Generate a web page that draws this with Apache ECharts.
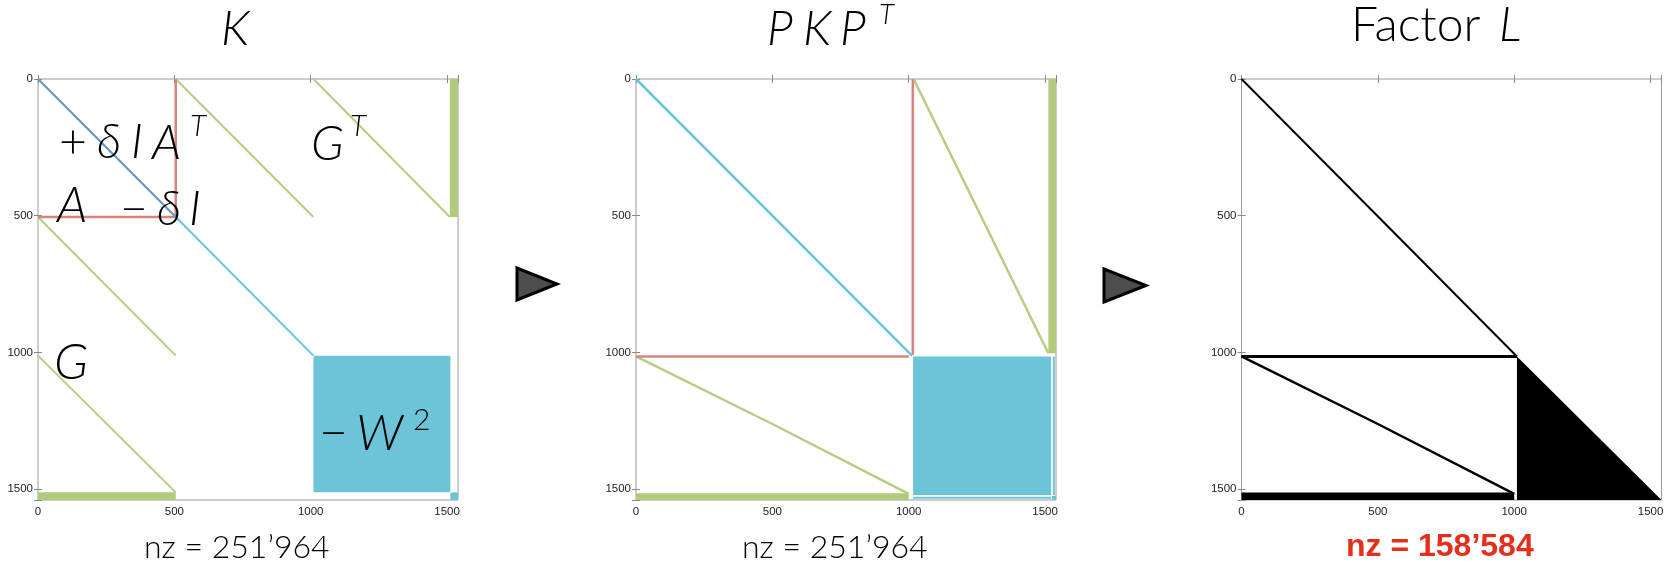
<!DOCTYPE html>
<html>
<head>
<meta charset="utf-8">
<script src="https://cdn.jsdelivr.net/npm/echarts@6/dist/echarts.min.js"></script>
<style>
html, body { margin: 0; padding: 0; background: #fff; }
#chart { width: 1667px; height: 563px; }
</style>
</head>
<body>
<div id="chart"></div>
<script>
// matrix size and tick labels
const size = 1540
const tickValues = [0, 500, 1000, 1500]

// K : segments as [[col,row],[col,row]], blocks as [c0,r0,c1,r1]
const kDiagUpper = [[0, 0], [505, 505]]
const kDiagLower = [[505, 505], [1010, 1012]]
const kRed = [[[505, 0], [505, 505]], [[0, 505], [505, 505]]]
const kGreenLines = [
  [[505, 0], [1010, 505]],
  [[1010, 0], [1510, 505]],
  [[0, 505], [505, 1012]],
  [[0, 1012], [505, 1512]]
]
const kGreenBars = [[1510, 0, 1540, 505], [0, 1512, 505, 1540]]
const kBlueBlocks = [[1010, 1012, 1512, 1512], [1512, 1512, 1540, 1540]]

// P K P^T
const pDiag = [[0, 0], [1012, 1012]]
const pRed = [[[1015, 0], [1015, 1010]], [[0, 1015], [1000, 1015]]]
const pGreenLines = [
  [[1018, 0], [1512, 1003]],
  [[0, 1015], [500, 1262], [1000, 1518]]
]
const pGreenBars = [[1512, 0, 1540, 1003], [0, 1515, 1000, 1540]]
const pBlueBlocks = [[1016, 1015, 1522, 1522], [1525, 1525, 1540, 1540]]
const pBlueThin = [[[1532, 1015], [1532, 1522]], [[1016, 1532], [1522, 1532]]]

// factor L
const lDiag = [[0, 0], [1010, 1015]]
const lRow = [[0, 1015], [1010, 1015]]
const lCurve = [[0, 1015], [500, 1262], [1000, 1518]]
const lBars = [[0, 1513, 1000, 1540]]
const lTriangle = [[1010, 1015, 1010, 1540, 1540, 1540]]

const nzLabels = ['nz = 251’964', 'nz = 251’964', 'nz = 158’584']

const BLUE_DARK = '#6793bd'
const BLUE = '#6cc4d9'
const RED = '#d6847c'
const GREEN = '#b6cd83'
const GREEN_BAR = '#b2ca7b'

const gridBoxes = [
  { left: 38, top: 79, width: 420, height: 421 },
  { left: 636, top: 79, width: 420, height: 421 },
  { left: 1241.5, top: 79, width: 420, height: 421 }
]

const tickStyle = { inside: true, length: 4, lineStyle: { color: '#8a8a8a' } }
const xAxes = [], yAxes = []
gridBoxes.forEach((g, i) => {
  const base = { gridIndex: i, type: 'value', min: 0, max: size, interval: 500,
    axisLine: { show: false }, axisTick: tickStyle, splitLine: { show: false } }
  const lab = {
    color: '#222', fontSize: 11.5, fontFamily: 'Liberation Sans',
    formatter: v => tickValues.includes(v) ? String(v) : ''
  }
  xAxes.push({ ...base, position: 'bottom', axisLabel: { ...lab, margin: 6 } })
  xAxes.push({ ...base, position: 'top', axisLabel: { show: false } })
  yAxes.push({ ...base, inverse: true, position: 'left', axisLabel: { ...lab, margin: 5 } })
  yAxes.push({ ...base, inverse: true, position: 'right', axisLabel: { show: false } })
})

const series = []
function seg(i, data, color, width) {
  series.push({
    type: 'line', xAxisIndex: 2 * i, yAxisIndex: 2 * i, data,
    symbol: 'none', silent: true, lineStyle: { color, width }
  })
}
function rects(i, data, color, r = 0) {
  series.push({
    type: 'custom', xAxisIndex: 2 * i, yAxisIndex: 2 * i, data, silent: true,
    renderItem: (p, api) => {
      const a = api.coord([api.value(0), api.value(1)])
      const b = api.coord([api.value(2), api.value(3)])
      return {
        type: 'rect',
        shape: { x: Math.min(a[0], b[0]), y: Math.min(a[1], b[1]),
          width: Math.abs(b[0] - a[0]), height: Math.abs(b[1] - a[1]), r },
        style: { fill: color }
      }
    }
  })
}
function polys(i, data, color) {
  series.push({
    type: 'custom', xAxisIndex: 2 * i, yAxisIndex: 2 * i, data, silent: true,
    renderItem: (p, api) => {
      const pts = []
      for (let k = 0; k < 3; k++) pts.push(api.coord([api.value(2 * k), api.value(2 * k + 1)]))
      return { type: 'polygon', shape: { points: pts }, style: { fill: color } }
    }
  })
}

// K
rects(0, kBlueBlocks, BLUE, 1.5)
rects(0, kGreenBars, GREEN_BAR)
kGreenLines.forEach(d => seg(0, d, GREEN, 2))
kRed.forEach(d => seg(0, d, RED, 2.5))
seg(0, kDiagUpper, BLUE_DARK, 2)
seg(0, kDiagLower, BLUE, 2)

// PKP^T
rects(1, pBlueBlocks, BLUE)
rects(1, pGreenBars, GREEN_BAR)
pBlueThin.forEach(d => seg(1, d, BLUE, 2))
pGreenLines.forEach(d => seg(1, d, GREEN, 2.5))
pRed.forEach(d => seg(1, d, RED, 2.5))
seg(1, pDiag, BLUE, 2.5)

// L
polys(2, lTriangle, '#000')
rects(2, lBars, '#000')
seg(2, lDiag, '#000', 2)
seg(2, lRow, '#000', 3)
seg(2, lCurve, '#000', 2.5)

function txt(x, base, text, size, opt = {}) {
  return {
    type: 'text', x, y: base - 0.39 * size, silent: true, z: 50,
    style: {
      text, fontSize: size, fontFamily: opt.family || 'Lato',
      fontStyle: opt.italic ? 'italic' : 'normal', fontWeight: opt.weight || 300,
      fill: opt.color || '#000', align: 'left', verticalAlign: 'middle',
      textAlign: 'left', textVerticalAlign: 'middle'
    }
  }
}
const it = { italic: true }
const mu = {}
function arrow(x0, y0, x1, y1) {
  return {
    type: 'polygon', silent: true, z: 50,
    shape: { points: [[x0, y0], [x0, y1], [x1, (y0 + y1) / 2]] },
    style: { fill: '#4d4d4d', stroke: '#000', lineWidth: 3, lineJoin: 'miter' }
  }
}

const graphic = [
  // titles
  txt(221, 48, 'K', 48, it),
  txt(767, 48, 'P', 48, it), txt(803, 48, 'K', 48, it), txt(840, 48, 'P', 48, it),
  txt(879, 26, 'T', 28, it),
  txt(1351, 44, 'Factor', 48), txt(1499, 44, 'L', 48, it),
  // block labels of K
  txt(59, 161, '+', 48, mu), txt(97, 161, 'δ', 48, it), txt(131, 161, 'I', 48, it),
  txt(152, 162, 'A', 48, it), txt(190, 138, 'T', 30, it),
  txt(311, 163, 'G', 48, it), txt(350, 138, 'T', 30, it),
  txt(57, 225, 'A', 50, it),
  txt(120, 228, '−', 48, mu), txt(157, 228, 'δ', 48, it), txt(189, 228, 'I', 48, it),
  txt(54, 382, 'G', 50, it),
  txt(319, 453, '−', 50, mu), txt(356, 453, 'W', 50, it), txt(413, 432, '2', 30, mu),
  // nz
  txt(144, 560, nzLabels[0], 32),
  txt(742, 560, nzLabels[1], 32),
  txt(1346, 560, nzLabels[2], 32, { weight: 'bold', color: '#e3301c', family: 'Liberation Sans' }),
  arrow(517, 268, 557, 300),
  arrow(1104, 269, 1146, 302)
]

const chart = echarts.init(document.getElementById('chart'))
chart.setOption({
  animation: false,
  backgroundColor: '#fff',
  grid: gridBoxes.map(g => ({ ...g, show: true, borderColor: '#9a9a9a', borderWidth: 1, backgroundColor: 'transparent' })),
  xAxis: xAxes,
  yAxis: yAxes,
  series,
  graphic
})
</script>
</body>
</html>
